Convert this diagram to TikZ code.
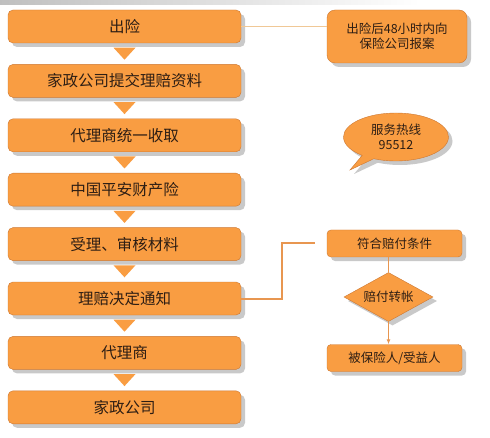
\documentclass[tikz,border=0pt]{standalone}
\usepackage{fontspec}
\setmainfont{Noto Sans CJK SC}
\usepackage{xcolor}
\usetikzlibrary{positioning,calc,shadows,shapes.geometric,shapes.callouts,arrows.meta}
\definecolor{stepfill}{RGB}{249,157,66}
\definecolor{stepedge}{RGB}{205,120,50}
\definecolor{steptext}{RGB}{45,30,20}
\definecolor{linkline}{RGB}{232,150,80}
\definecolor{linklight}{RGB}{240,200,150}

\begin{document}
\begin{tikzpicture}[
    x=1pt,y=1pt,
    node distance=21pt,
    boxshadow/.style={drop shadow={shadow xshift=4pt,shadow yshift=-4pt,fill=gray!70,opacity=0.6}},
    stepbox/.style={draw=stepedge,fill=stepfill,rounded corners=5pt,boxshadow,text=steptext,
        minimum width=233pt,minimum height=33pt,font=\fontsize{15.5}{18}\selectfont},
    notebox/.style={draw=stepedge,fill=stepfill,rounded corners=8pt,boxshadow,text=steptext,align=center,
        minimum width=140pt,minimum height=53pt,font=\fontsize{12.5}{15}\selectfont},
    paybox/.style={draw=stepedge,fill=stepfill,rounded corners=4pt,boxshadow,text=steptext,
        minimum width=135pt,minimum height=27pt,font=\fontsize{12.5}{15}\selectfont},
    paydiamond/.style={diamond,draw=stepedge,fill=stepfill,boxshadow,text=steptext,aspect=1.8,
        minimum width=89pt,minimum height=49pt,inner sep=0pt,font=\fontsize{12.5}{15}\selectfont},
    bubble/.style={ellipse callout,draw=stepedge,fill=stepfill,boxshadow,text=steptext,align=center,
        minimum width=105pt,minimum height=48pt,inner sep=0pt,font=\fontsize{12.5}{15}\selectfont},
    link/.style={draw=linkline,line width=2pt},
    >={Latex[length=5pt,width=4pt]}
]
\useasboundingbox (0,0) rectangle (490,437);
\fill[white] (0,0) rectangle (490,437);
% top strip
\shade[left color=gray!50,right color=white] (0,432) rectangle (420,437);

% main chain
\node[stepbox] (s1) at (124.5,410.5) {出险};
\node[stepbox,below=of s1] (s2) {家政公司提交理赔资料};
\node[stepbox,below=of s2] (s3) {代理商统一收取};
\node[stepbox,below=of s3] (s4) {中国平安财产险};
\node[stepbox,below=of s4] (s5) {受理、审核材料};
\node[stepbox,below=of s5] (s6) {理赔决定通知};
\node[stepbox,below=of s6] (s7) {代理商};
\node[stepbox,below=of s7] (s8) {家政公司};

\foreach \a/\b in {s1/s2,s2/s3,s3/s4,s4/s5,s5/s6,s6/s7,s7/s8}
  \fill[stepfill] ($(\a.south)!0.5!(\b.north)$) ++(-11,6) -- ++(22,0) -- ++(-11,-12) -- cycle;

% right side
\node[notebox] (note) at (397,400.5) {出险后48小时内向\\保险公司报案};
\node[bubble,callout absolute pointer={(350,267)}] (hotline) at (396,300) {服务热线\\95512};
\node[paybox] (cond) at (394.5,193.5) {符合赔付条件};
\node[paydiamond] (pay) at (388.5,140) {赔付转帐};
\node[paybox] (benef) at (394.5,79) {被保险人/受益人};

\draw[draw=linklight,line width=1.5pt] (s1.east) -- (s1.east -| note.west);
\draw[link] (s6.east) -- ++(41,0) |- ([xshift=-12pt]cond.west);
\draw[link,line width=1.5pt] (pay.north |- cond.south) -- (pay.north);
\draw[link,line width=1.2pt,->] (pay.south) -- (pay.south |- benef.north);
\end{tikzpicture}
\end{document}
